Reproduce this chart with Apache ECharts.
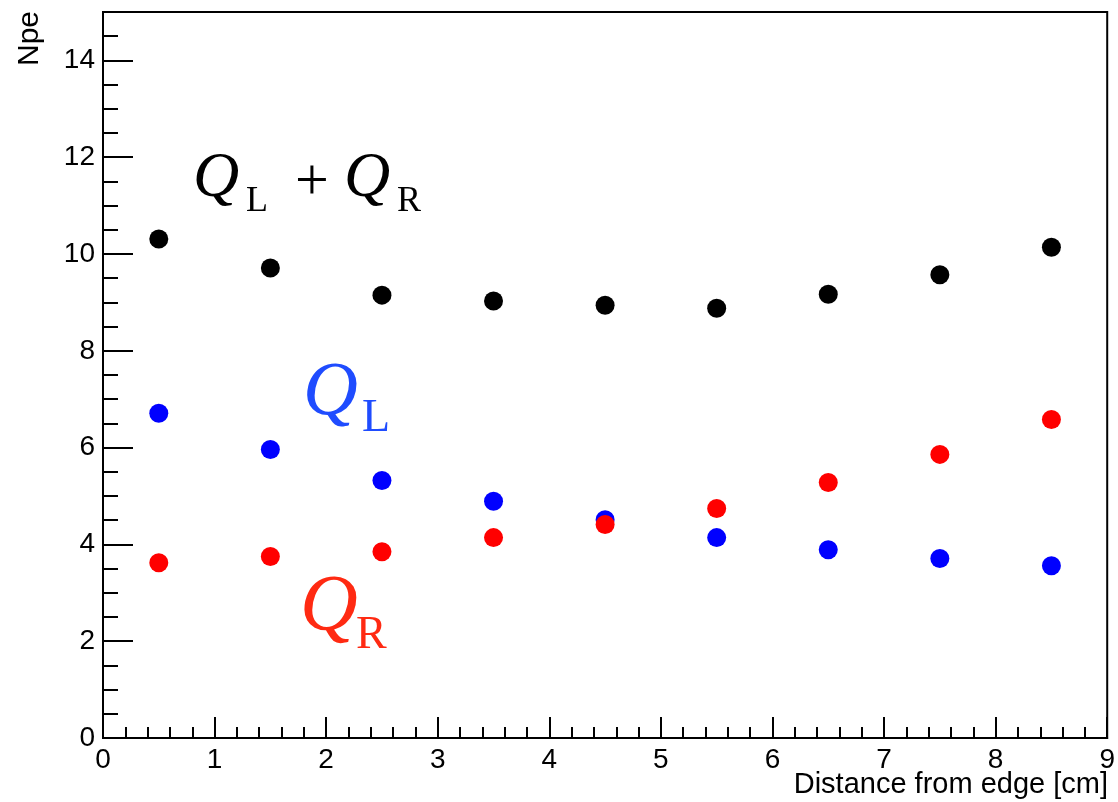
<!DOCTYPE html>
<html>
<head>
<meta charset="utf-8">
<script src="https://cdn.jsdelivr.net/npm/echarts@6/dist/echarts.min.js"></script>
<style>
html,body{margin:0;padding:0;background:#fff;}
#chart{width:1118px;height:802px;}
</style>
</head>
<body>
<div id="chart"></div>
<script>
// Data
const distances = [0.5, 1.5, 2.5, 3.5, 4.5, 5.5, 6.5, 7.5, 8.5];
const sumQ = [10.31, 9.71, 9.15, 9.03, 8.94, 8.88, 9.17, 9.57, 10.14];
const qLeft = [6.71, 5.96, 5.32, 4.89, 4.51, 4.14, 3.89, 3.71, 3.56];
const qRight = [3.62, 3.75, 3.85, 4.14, 4.41, 4.74, 5.28, 5.86, 6.58];
const xTitle = 'Distance from edge [cm]';
const yTitle = 'Npe';

const pair = (xs, ys) => xs.map((x, i) => [x, ys[i]]);
const FONT = '"Liberation Sans", Arial, Helvetica, sans-serif';
const SERIF = '"Liberation Serif", "Times New Roman", serif';

const chart = echarts.init(document.getElementById('chart'));
const axisLabelStyle = {color: '#000', fontSize: 28, fontFamily: FONT};

// text placed by its alphabetic baseline (approx., middle-aligned)
function txt(str, x, baseline, size, color, italic, align) {
  return {
    type: 'text', x: x, y: baseline - 0.34 * size, z: 100,
    style: {
      text: str,
      font: (italic ? 'italic ' : '') + size + 'px ' + SERIF,
      fill: color,
      textAlign: align || 'left',
      textVerticalAlign: 'middle'
    }
  };
}

chart.setOption({
  animation: false,
  backgroundColor: '#fff',
  grid: {left: 103, right: 7, top: 12, bottom: 64, show: true, borderColor: '#000', borderWidth: 2, backgroundColor: 'transparent'},
  xAxis: {
    type: 'value', min: 0, max: 9, interval: 1,
    axisLine: {show: true, lineStyle: {color: '#000', width: 2}},
    axisTick: {show: true, inside: true, length: 21, lineStyle: {color: '#000', width: 2}},
    minorTick: {show: true, splitNumber: 5, length: 11, lineStyle: {color: '#000', width: 2}},
    splitLine: {show: false},
    axisLabel: Object.assign({margin: 8}, axisLabelStyle)
  },
  yAxis: [{
    type: 'value', min: 0, max: 15, interval: 2,
    axisLine: {show: true, lineStyle: {color: '#000', width: 2}},
    axisTick: {show: true, inside: true, length: 30, lineStyle: {color: '#000', width: 2}},
    splitLine: {show: false},
    axisLabel: Object.assign({margin: 8, showMaxLabel: false,
      formatter: v => (v === 15 ? '' : String(v))}, axisLabelStyle)
  }, {
    type: 'value', min: 0, max: 15, interval: 0.5, position: 'left', offset: 0,
    axisLine: {show: false},
    axisTick: {show: true, inside: true, length: 15, lineStyle: {color: '#000', width: 2}},
    splitLine: {show: false},
    axisLabel: {show: false}
  }],
  series: [
    {type: 'scatter', name: 'QL+QR', data: pair(distances, sumQ), symbolSize: 19, itemStyle: {color: '#000', opacity: 1}, z: 3},
    {type: 'scatter', name: 'QL', data: pair(distances, qLeft), symbolSize: 19, itemStyle: {color: '#0000ff', opacity: 1}, z: 4},
    {type: 'scatter', name: 'QR', data: pair(distances, qRight), symbolSize: 19, itemStyle: {color: '#ff0000', opacity: 1}, z: 5}
  ],
  graphic: [
    {
      type: 'text', z: 100,
      x: 1108, y: 785,
      style: {text: xTitle, font: '29px ' + FONT, fill: '#000', textAlign: 'right', textVerticalAlign: 'middle'}
    },
    {
      type: 'text', z: 100,
      x: 15, y: 66, rotation: Math.PI / 2,
      style: {text: yTitle, font: '30px ' + FONT, fill: '#000', textAlign: 'left', textVerticalAlign: 'top'}
    },
    // Q_L + Q_R
    txt('Q', 193, 201, 64, '#000', true),
    txt('L', 246, 214, 36, '#000', false),
    txt('+', 312, 204, 60, '#000', false, 'center'),
    txt('Q', 344, 201, 64, '#000', true),
    txt('R', 397, 214, 36, '#000', false),
    // Q_L (blue)
    txt('Q', 303, 420, 76, '#1f4cff', true),
    txt('L', 362, 435, 46, '#1f4cff', false),
    // Q_R (red)
    txt('Q', 300, 636, 80, '#ff2a12', true),
    txt('R', 356, 652, 46, '#ff2a12', false)
  ]
});
</script>
</body>
</html>
